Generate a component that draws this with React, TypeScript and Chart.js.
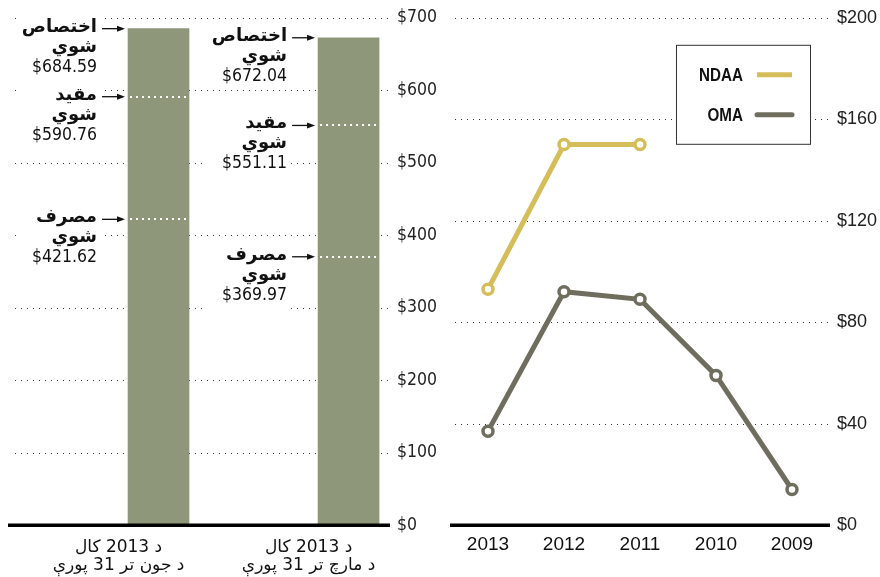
import React, { useEffect, useRef } from 'react';
import { Chart, registerables } from 'chart.js';

Chart.register(...registerables);

// ---------- Left panel data ----------
const barCategories: string[][] = [
  ['د 2013 کال', 'د جون تر 31 پورې'],
  ['د 2013 کال', 'د مارچ تر 31 پورې'],
];
const allocated = [684.59, 672.04];
const obligated = [590.76, 551.11];
const expended = [421.62, 369.97];
const stageWords = ['اختصاص', 'مقيد', 'مصرف'];
const stageSuffix = 'شوي';
const leftMax = 700;
const leftStep = 100;

// ---------- Right panel data ----------
const years = ['2013', '2012', '2011', '2010', '2009'];
const ndaa: (number | null)[] = [93, 150, 150, null, null];
const oma: (number | null)[] = [37, 92, 89, 59, 14];
const rightMax = 200;
const rightStep = 40;

const BAR_COLOR = '#8f977b';
const GOLD = '#d5bd5a';
const OLIVE = '#6f6e5e';
const DEJAVU = '"DejaVu Sans", Verdana, sans-serif';
const DEJAVU_C = '"DejaVu Sans Condensed", "DejaVu Sans", sans-serif';
const LIB = '"Liberation Sans", Arial, sans-serif';

function gridPlugin(offsetLeft: number) {
  return {
    id: 'dottedGrid',
    beforeDatasetsDraw(chart: any) {
      const { ctx, chartArea, scales } = chart;
      const y = scales.y;
      ctx.save();
      ctx.strokeStyle = '#333';
      ctx.lineWidth = 1;
      ctx.setLineDash([1, 5]);
      y.ticks.forEach((t: any) => {
        if (t.value === 0) return;
        const py = Math.round(y.getPixelForValue(t.value)) + 0.5;
        ctx.beginPath();
        ctx.moveTo(chartArea.left + offsetLeft, py);
        ctx.lineTo(chartArea.right, py);
        ctx.stroke();
      });
      ctx.restore();
    },
  };
}

const baselinePlugin = {
  id: 'baseline',
  afterDatasetsDraw(chart: any) {
    const { ctx, chartArea, scales } = chart;
    const y0 = scales.y.getPixelForValue(0);
    ctx.save();
    ctx.fillStyle = '#000';
    ctx.fillRect(chartArea.left, y0 - 1.5, chartArea.right - chartArea.left, 3.5);
    ctx.restore();
  },
};

const annotationPlugin = {
  id: 'barAnnotations',
  afterDatasetsDraw(chart: any) {
    const { ctx, scales } = chart;
    const y = scales.y;
    const meta = chart.getDatasetMeta(0);
    meta.data.forEach((bar: any, i: number) => {
      const { x, width } = bar.getProps(['x', 'width'], true);
      const left = x - width / 2;
      const right = x + width / 2;
      const values = [allocated[i], obligated[i], expended[i]];
      values.forEach((v, k) => {
        const py = y.getPixelForValue(v);
        ctx.save();
        if (k > 0) {
          ctx.strokeStyle = '#fff';
          ctx.lineWidth = 2;
          ctx.setLineDash([2, 4]);
          ctx.beginPath();
          ctx.moveTo(left + 2, Math.round(py));
          ctx.lineTo(right, Math.round(py));
          ctx.stroke();
          ctx.setLineDash([]);
        }
        const tr = left - 31;
        ctx.fillStyle = '#fff';
        ctx.fillRect(tr - 81, py - 14, 84, 66.3);
        ctx.fillStyle = '#111';
        ctx.textAlign = 'right';
        ctx.textBaseline = 'alphabetic';
        ctx.font = `bold 18px ${DEJAVU}`;
        ctx.fillText(stageWords[k], tr, py + 3);
        ctx.fillText(stageSuffix, tr, py + 23);
        ctx.font = `17.5px ${DEJAVU_C}`;
        ctx.fillText('$' + v.toFixed(2), tr, py + 43);
        // arrow
        ctx.strokeStyle = '#111';
        ctx.lineWidth = 1.3;
        ctx.beginPath();
        ctx.moveTo(tr + 5, py);
        ctx.lineTo(left - 8, py);
        ctx.stroke();
        ctx.beginPath();
        ctx.moveTo(left - 3, py);
        ctx.lineTo(left - 11, py - 3);
        ctx.lineTo(left - 11, py + 3);
        ctx.closePath();
        ctx.fill();
        ctx.restore();
      });
    });
  },
};

const legendPlugin = {
  id: 'boxLegend',
  afterDraw(chart: any) {
    const { ctx, chartArea } = chart;
    const bx = chartArea.right - 154;
    const by = chartArea.top + 27;
    const bw = 134;
    const bh = 99;
    ctx.save();
    ctx.fillStyle = '#fff';
    ctx.fillRect(bx, by, bw, bh);
    ctx.strokeStyle = '#333';
    ctx.lineWidth = 1;
    ctx.strokeRect(bx + 0.5, by + 0.5, bw, bh);
    chart.data.datasets.forEach((ds: any, i: number) => {
      const ly = by + 30 + i * 40;
      ctx.save();
      ctx.fillStyle = '#111';
      ctx.font = `bold 19px ${LIB}`;
      ctx.textAlign = 'right';
      ctx.textBaseline = 'middle';
      ctx.translate(bx + 67, ly + 1);
      ctx.scale(0.8, 1);
      ctx.fillText(ds.label, 0, 0);
      ctx.restore();
      ctx.strokeStyle = ds.borderColor;
      ctx.lineWidth = 5;
      ctx.lineCap = i === 0 ? 'butt' : 'round';
      ctx.beginPath();
      ctx.moveTo(bx + 81, ly);
      ctx.lineTo(bx + 116, ly);
      ctx.stroke();
    });
    ctx.restore();
  },
};

export default function App() {
  const leftRef = useRef<HTMLCanvasElement>(null);
  const rightRef = useRef<HTMLCanvasElement>(null);

  useEffect(() => {
    if (!leftRef.current || !rightRef.current) return;
    const left = new Chart(leftRef.current, {
      type: 'bar',
      data: {
        datasets: [
          {
            data: allocated.map((v, i) => ({ x: i, y: v })),
            backgroundColor: BAR_COLOR,
            barThickness: 61,
          },
        ],
      },
      options: {
        responsive: false,
        animation: false,
        layout: { padding: { left: 8, top: 17, right: 0, bottom: 0 } },
        plugins: { legend: { display: false }, tooltip: { enabled: false } },
        scales: {
          x: {
            type: 'linear',
            offset: false,
            min: -0.792,
            max: 1.218,
            grid: { display: false, drawTicks: false },
            border: { display: false },
            afterBuildTicks: (s: any) => {
              s.ticks = barCategories.map((_, i) => ({ value: i }));
            },
            afterFit: (s: any) => {
              s.height = 52;
            },
            ticks: {
              autoSkip: false,
              maxRotation: 0,
              padding: 13,
              labelOffset: -40,
              color: '#111',
              font: { family: DEJAVU, size: 17, lineHeight: 1.1 },
              callback: (v: any) => barCategories[v as number],
            },
          },
          y: {
            position: 'right',
            min: 0,
            max: leftMax,
            grid: { display: false, drawTicks: false },
            border: { display: false },
            afterFit: (s: any) => {
              s.width = 50;
            },
            ticks: {
              stepSize: leftStep,
              padding: 7,
              color: '#222',
              font: { family: DEJAVU_C, size: 17.5 },
              callback: (v: any) => '$' + v,
            },
          },
        },
      } as any,
      plugins: [gridPlugin(7), annotationPlugin, baselinePlugin],
    });

    const right = new Chart(rightRef.current, {
      type: 'line',
      data: {
        labels: years,
        datasets: [
          {
            label: 'NDAA',
            data: ndaa,
            borderColor: GOLD,
            borderWidth: 5,
            pointRadius: 5,
            pointBorderWidth: 3.5,
            pointBackgroundColor: '#fff',
            pointBorderColor: GOLD,
            spanGaps: false,
          },
          {
            label: 'OMA',
            data: oma,
            borderColor: OLIVE,
            borderWidth: 5,
            pointRadius: 5,
            pointBorderWidth: 3.5,
            pointBackgroundColor: '#fff',
            pointBorderColor: OLIVE,
          },
        ],
      },
      options: {
        responsive: false,
        animation: false,
        layout: { padding: { left: 10, top: 17, right: 0, bottom: 0 } },
        plugins: { legend: { display: false }, tooltip: { enabled: false } },
        scales: {
          x: {
            type: 'category',
            offset: true,
            grid: { display: false, drawTicks: false },
            border: { display: false },
            afterFit: (s: any) => {
              s.height = 52;
            },
            ticks: {
              padding: 8,
              color: '#111',
              font: { family: LIB, size: 19 },
            },
          },
          y: {
            position: 'right',
            min: 0,
            max: rightMax,
            grid: { display: false, drawTicks: false },
            border: { display: false },
            afterFit: (s: any) => {
              s.width = 50;
            },
            ticks: {
              stepSize: rightStep,
              padding: 7,
              color: '#222',
              font: { family: LIB, size: 18 },
              callback: (v: any) => '$' + v,
            },
          },
        },
      } as any,
      plugins: [gridPlugin(5), baselinePlugin, legendPlugin],
    });

    return () => {
      left.destroy();
      right.destroy();
    };
  }, []);

  return (
    <div style={{ position: 'absolute', left: 0, top: 0, width: 880, height: 577, background: '#fff' }}>
      <canvas ref={leftRef} width={440} height={577} style={{ position: 'absolute', left: 0, top: 0 }} />
      <canvas ref={rightRef} width={440} height={577} style={{ position: 'absolute', left: 440, top: 0 }} />
    </div>
  );
}
